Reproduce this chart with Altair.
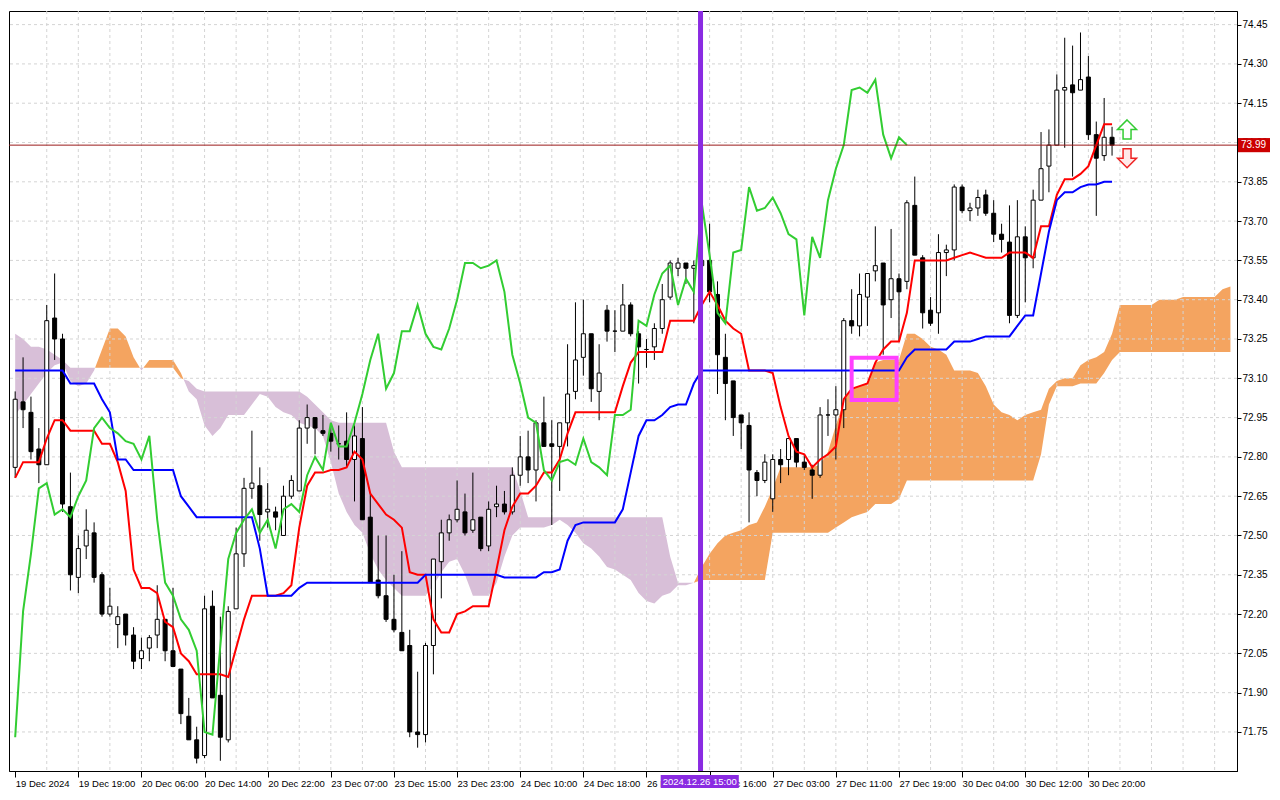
import altair as alt
import pandas as pd

FONT = "Liberation Sans"
W, H = 1228, 760

# ---------------- data ----------------
opens = [72.76,73.01,72.97,72.83,72.77,73.33,73.25,72.61,72.34,72.46,
72.51,72.35,72.20,72.16,72.20,72.12,72.03,72.07,72.12,72.18,
72.06,71.99,71.81,71.72,71.66,72.23,71.89,71.72,72.22,72.43,
72.68,72.69,72.59,72.59,72.50,72.65,72.67,72.91,72.95,72.90,
72.89,72.85,72.86,72.79,72.87,72.57,72.33,72.27,72.18,72.13,
72.08,71.75,71.74,72.08,72.40,72.51,72.56,72.59,72.52,72.57,
72.46,72.61,72.62,72.59,72.73,72.80,72.75,72.93,72.85,72.84,
72.93,73.05,73.18,73.27,73.05,73.36,73.28,73.28,73.38,73.27,
73.21,73.22,73.29,73.41,73.52,73.54,73.52,73.53,73.55,73.42,
73.18,73.09,72.96,72.92,72.74,72.71,72.64,72.79,72.79,72.87,
72.78,72.75,72.73,72.96,72.96,72.98,73.32,73.30,73.41,73.51,
73.54,73.40,73.48,73.47,73.76,73.56,73.36,73.35,73.58,73.59,
73.83,73.74,73.75,73.80,73.73,73.65,73.62,73.34,73.64,73.56,
73.78,73.91,73.99,74.20,74.22,74.20,74.25,74.03,73.95,74.02]

highs = [73.05,73.18,73.03,72.91,73.38,73.50,73.27,72.74,72.50,72.60,
72.55,72.36,72.30,72.23,72.20,72.15,72.11,72.12,72.31,72.18,
72.30,71.99,71.88,71.77,72.27,72.29,72.19,72.23,72.53,72.72,
72.90,72.76,72.70,72.61,72.69,72.73,72.94,73.00,72.95,72.96,
72.93,72.92,72.97,72.92,72.99,72.66,72.50,72.50,72.35,72.44,
72.14,71.98,72.09,72.41,72.56,72.58,72.71,72.66,72.74,72.57,
72.63,72.69,72.67,72.76,72.88,72.90,72.94,73.03,72.94,72.93,
73.23,73.39,73.40,73.27,73.23,73.38,73.36,73.46,73.39,73.28,
73.25,73.31,73.46,73.55,73.56,73.54,73.55,73.62,73.69,73.47,
73.27,73.09,72.96,72.97,72.75,72.81,72.81,72.83,72.87,72.87,
72.81,72.77,72.99,73.02,73.07,73.33,73.44,73.50,73.50,73.68,
73.54,73.67,73.50,73.78,73.87,73.57,73.41,73.65,73.61,73.84,
73.84,73.77,73.82,73.82,73.78,73.69,73.76,73.78,73.68,73.82,
74.04,74.05,74.26,74.40,74.37,74.42,74.33,74.08,74.17,74.06]

lows = [72.72,72.91,72.79,72.70,72.77,73.17,72.59,72.29,72.28,72.41,
72.32,72.19,72.19,72.07,72.08,71.99,71.99,72.02,72.07,72.02,
72.00,71.78,71.72,71.63,71.65,71.88,71.64,71.71,72.22,72.38,
72.64,72.48,72.53,72.52,72.50,72.64,72.67,72.85,72.81,72.88,
72.82,72.79,72.76,72.63,72.56,72.32,72.26,72.17,72.13,72.06,
71.73,71.69,71.71,71.97,72.26,72.48,72.55,72.50,72.51,72.44,
72.44,72.57,72.58,72.58,72.69,72.70,72.63,72.84,72.54,72.67,
72.84,73.02,73.11,73.01,72.94,73.24,73.20,73.28,73.26,73.08,
73.14,73.17,73.27,73.40,73.49,73.46,73.31,73.48,73.39,73.04,
72.94,72.88,72.83,72.55,72.65,72.70,72.59,72.70,72.73,72.76,
72.75,72.64,72.72,72.88,72.79,72.91,73.27,73.26,73.30,73.47,
73.19,73.33,73.24,73.44,73.57,73.29,73.30,73.27,73.49,73.55,
73.73,73.70,73.72,73.72,73.62,73.58,73.31,73.33,73.39,73.52,
73.78,73.81,73.99,73.98,73.87,74.20,74.01,73.72,73.93,73.95]

closes = [73.02,72.98,72.82,72.77,73.32,73.25,72.62,72.35,72.45,72.52,
72.34,72.20,72.23,72.19,72.12,72.02,72.06,72.11,72.18,72.06,
72.00,71.82,71.72,71.65,72.22,71.88,71.73,72.21,72.43,72.68,
72.70,72.58,72.60,72.57,72.65,72.71,72.91,72.95,72.91,72.89,
72.86,72.85,72.79,72.88,72.56,72.32,72.27,72.18,72.14,72.06,
71.75,71.74,72.08,72.41,72.51,72.56,72.60,72.51,72.56,72.45,
72.60,72.62,72.59,72.73,72.80,72.75,72.93,72.84,72.84,72.93,
73.04,73.17,73.27,73.06,73.12,73.28,73.28,73.38,73.27,73.22,
73.21,73.29,73.40,73.54,73.54,73.52,73.53,73.55,73.43,73.19,
73.08,72.95,72.93,72.75,72.71,72.78,72.79,72.77,72.87,72.78,
72.76,72.73,72.96,72.96,72.98,73.32,73.30,73.42,73.50,73.53,
73.38,73.48,73.43,73.77,73.57,73.35,73.31,73.58,73.59,73.83,
73.74,73.75,73.79,73.73,73.65,73.63,73.34,73.64,73.56,73.78,
73.90,73.99,74.20,74.21,74.19,74.24,74.03,73.94,74.02,73.99]

tenkan = [72.72,72.78,72.78,72.78,72.87,72.94,72.94,72.90,72.90,72.90,
72.90,72.85,72.85,72.78,72.67,72.37,72.30,72.30,72.28,72.17,
72.15,72.05,72.02,71.97,71.97,71.97,71.97,71.96,72.07,72.18,
72.27,72.27,72.27,72.27,72.28,72.31,72.53,72.69,72.74,72.74,
72.75,72.75,72.76,72.82,72.79,72.66,72.62,72.58,72.56,72.53,
72.36,72.35,72.35,72.18,72.13,72.13,72.20,72.21,72.23,72.23,
72.23,72.37,72.52,72.61,72.66,72.66,72.69,72.74,72.74,72.79,
72.89,72.97,72.97,72.97,72.97,72.97,72.97,73.07,73.16,73.20,
73.20,73.20,73.20,73.32,73.32,73.32,73.32,73.38,73.43,73.38,
73.32,73.29,73.27,73.13,73.13,73.13,73.12,72.99,72.88,72.82,
72.81,72.76,72.79,72.81,72.84,73.02,73.06,73.07,73.08,73.16,
73.21,73.24,73.24,73.35,73.55,73.55,73.55,73.55,73.55,73.56,
73.57,73.58,73.57,73.56,73.56,73.56,73.58,73.58,73.58,73.56,
73.68,73.68,73.80,73.86,73.86,73.88,73.91,73.99,74.07,74.07]

kijun = [73.13,73.13,73.13,73.13,73.13,73.13,73.13,73.08,73.08,73.08,
73.08,73.02,72.97,72.79,72.79,72.75,72.75,72.75,72.75,72.75,
72.75,72.65,72.61,72.57,72.57,72.57,72.57,72.57,72.57,72.57,
72.57,72.45,72.27,72.27,72.27,72.27,72.30,72.32,72.32,72.32,
72.32,72.32,72.32,72.32,72.32,72.32,72.32,72.32,72.32,72.32,
72.32,72.32,72.35,72.35,72.35,72.35,72.35,72.35,72.35,72.35,
72.35,72.35,72.34,72.34,72.34,72.34,72.34,72.36,72.36,72.37,
72.48,72.54,72.55,72.55,72.55,72.55,72.55,72.60,72.74,72.88,
72.94,72.94,72.96,72.99,73.00,73.00,73.08,73.13,73.13,73.13,
73.13,73.13,73.13,73.13,73.13,73.13,73.13,73.13,73.13,73.13,
73.13,73.13,73.13,73.13,73.13,73.13,73.13,73.13,73.13,73.13,
73.13,73.13,73.13,73.18,73.21,73.21,73.21,73.21,73.21,73.24,
73.24,73.24,73.25,73.26,73.26,73.26,73.26,73.30,73.34,73.34,
73.50,73.66,73.78,73.81,73.81,73.83,73.84,73.84,73.85,73.85]

span_a = [72.96,73.00,73.04,73.08,73.12,73.15,73.16,73.09,73.07,73.08,
73.13,73.21,73.29,73.29,73.26,73.18,73.13,73.17,73.17,73.17,
73.17,73.12,73.05,73.02,72.92,72.88,72.91,72.96,72.96,72.96,
73.00,73.04,73.03,72.99,72.97,72.96,72.93,72.92,72.91,72.88,
72.78,72.66,72.59,72.54,72.51,72.43,72.37,72.33,72.30,72.27,
72.27,72.27,72.27,72.31,72.36,72.40,72.41,72.35,72.27,72.27,
72.27,72.32,72.42,72.50,72.53,72.53,72.53,72.53,72.54,72.56,
72.54,72.51,72.47,72.45,72.42,72.38,72.37,72.35,72.33,72.28,
72.25,72.24,72.27,72.28,72.31,72.31,72.32,72.38,72.43,72.47,
72.50,72.51,72.52,72.54,72.55,72.61,72.68,72.76,72.76,72.76,
72.76,72.76,72.77,72.82,72.92,73.01,73.06,73.07,73.08,73.16,
73.17,73.17,73.17,73.27,73.27,73.25,73.22,73.21,73.19,73.13,
73.13,73.13,73.12,73.07,73.00,72.97,72.96,72.94,72.96,72.97,
72.98,73.06,73.09,73.10,73.10,73.15,73.17,73.18,73.20,73.27,
73.38,73.38,73.38,73.38,73.38,73.40,73.40,73.40,73.41,73.41,
73.41,73.41,73.41,73.44,73.45]

span_b = [73.27,73.25,73.22,73.22,73.21,73.19,73.17,73.14,73.14,73.14,
73.14,73.14,73.14,73.14,73.14,73.14,73.14,73.14,73.14,73.14,
73.14,73.10,73.09,73.06,73.05,73.05,73.05,73.05,73.05,73.05,
73.05,73.05,73.05,73.05,73.05,73.05,73.05,73.03,73.00,72.97,
72.94,72.93,72.93,72.93,72.93,72.93,72.93,72.93,72.82,72.76,
72.76,72.76,72.76,72.76,72.76,72.76,72.76,72.76,72.76,72.76,
72.76,72.76,72.76,72.76,72.67,72.57,72.57,72.57,72.57,72.57,
72.57,72.57,72.57,72.57,72.57,72.57,72.57,72.57,72.57,72.57,
72.57,72.57,72.57,72.42,72.32,72.32,72.32,72.33,72.33,72.33,
72.33,72.33,72.33,72.33,72.33,72.33,72.51,72.51,72.51,72.51,
72.51,72.51,72.51,72.51,72.53,72.55,72.57,72.58,72.59,72.62,
72.62,72.62,72.64,72.71,72.71,72.71,72.71,72.71,72.71,72.71,
72.71,72.71,72.71,72.71,72.71,72.71,72.71,72.71,72.71,72.71,
72.81,73.00,73.07,73.07,73.07,73.08,73.08,73.08,73.12,73.17,
73.20,73.20,73.20,73.20,73.20,73.20,73.20,73.20,73.20,73.20,
73.20,73.20,73.20,73.20,73.20]

chikou_shift = 26
tick_bars = [0, 8, 16, 24, 32, 40, 48, 56, 64, 72, 80, 88, 96, 104, 112, 120, 128, 136]
tick_labels = ['19 Dec 2024', '19 Dec 19:00', '20 Dec 06:00', '20 Dec 14:00', '20 Dec 22:00',
               '23 Dec 07:00', '23 Dec 15:00', '23 Dec 23:00', '24 Dec 10:00', '24 Dec 18:00',
               '26 Dec 08:00', '26 Dec 16:00', '27 Dec 03:00', '27 Dec 11:00', '27 Dec 19:00',
               '30 Dec 04:00', '30 Dec 12:00', '30 Dec 20:00']
price_ticks = [71.75, 71.90, 72.05, 72.20, 72.35, 72.50, 72.65, 72.80, 72.95, 73.10,
               73.25, 73.40, 73.55, 73.70, 73.85, 74.00, 74.15, 74.30, 74.45]
xgrid_bars = [4, 8, 12, 16, 20, 24, 28, 32, 36, 40, 44, 48, 52, 56, 60, 64, 68, 72, 76, 80,
              84, 88, 92, 96, 100, 104, 108, 112, 116, 120, 124, 128, 132, 136, 140, 144, 148, 152]
last_price = 73.99
marker_bar = 86.85
marker_label = '2024.12.26 15:00'
marker_box = [81.8, 91.7]
box_bars = [106.0, 111.7]
box_prices = [73.178, 73.017]
arrow_bars = [140.9, 140.9]
arrow_prices = [74.05, 73.94]

# ---------------- frames ----------------
n = len(opens)
candles = pd.DataFrame({'i': list(range(n)), 'o': opens, 'h': highs, 'l': lows, 'c': closes})
candles['dir'] = ['up' if c > o else 'down' for o, c in zip(opens, closes)]

ten_df = pd.DataFrame({'i': list(range(n)), 'v': tenkan})
kij_df = pd.DataFrame({'i': list(range(n)), 'v': kijun})
chi_df = pd.DataFrame({'i': [k - chikou_shift for k in range(chikou_shift, n)],
                       'v': closes[chikou_shift:]})

# cloud: split into bullish / bearish pieces, joined where the two spans cross
rows = []
seg = 0
def sgn(d):
    return 1 if d > 0 else (-1 if d < 0 else 0)
cur = sgn(span_a[0] - span_b[0]) or -1
for k in range(len(span_a)):
    a, b = span_a[k], span_b[k]
    s = sgn(a - b)
    if k > 0 and s != 0 and s != cur:
        d0 = span_a[k-1] - span_b[k-1]
        d1 = a - b
        t = d0 / (d0 - d1) if d0 != d1 else 0.0
        xc = (k - 1) + t
        yc = span_a[k-1] + t * (a - span_a[k-1])
        rows.append({'x': xc, 'top': yc, 'bot': yc, 'seg': seg, 'kind': 'bull' if cur > 0 else 'bear'})
        seg += 1
        cur = s
        rows.append({'x': xc, 'top': yc, 'bot': yc, 'seg': seg, 'kind': 'bull' if cur > 0 else 'bear'})
    rows.append({'x': k, 'top': max(a, b), 'bot': min(a, b), 'seg': seg, 'kind': 'bull' if cur > 0 else 'bear'})
cloud_df = pd.DataFrame(rows)

xs = alt.Scale(domain=[-0.15, 154.2], nice=False, zero=False)
ys = alt.Scale(domain=[71.601, 74.502], nice=False, zero=False)

label_expr = "[" + ",".join("'%s'" % s for s in tick_labels) + "][round(datum.value/8)]"
x_axis = alt.Axis(values=tick_bars, labelExpr=label_expr, title=None, grid=False,
                  labelAlign='left', labelPadding=1, tickSize=6, tickColor='black',
                  domainColor='black', labelColor='black', labelFont=FONT, labelFontSize=9.5,
                  labelOverlap=False, labelFlush=False, labelBound=False)
y_axis = alt.Axis(values=price_ticks, format='.2f', title=None, grid=False, orient='right',
                  tickSize=4, tickColor='black', domainColor='black', labelColor='black',
                  labelFont=FONT, labelFontSize=10, labelPadding=1, labelOverlap=False)

def X(f):
    return alt.X(f, scale=xs, axis=x_axis)

def Y(f):
    return alt.Y(f, scale=ys, axis=y_axis, stack=None)

cloud = alt.Chart(cloud_df).mark_area(interpolate='linear').encode(
    x=X('x:Q'), y=Y('top:Q'), y2='bot:Q',
    color=alt.Color('kind:N', scale=alt.Scale(domain=['bear', 'bull'], range=['#D8BFD8', '#F4A460']), legend=None),
    detail='seg:N')

xgrid = alt.Chart(pd.DataFrame({'g': xgrid_bars})).mark_rule(
    color='#d4d4d4', strokeDash=[3, 3], strokeWidth=1).encode(x=X('g:Q'))
ygrid = alt.Chart(pd.DataFrame({'g': price_ticks})).mark_rule(
    color='#d4d4d4', strokeDash=[3, 3], strokeWidth=1).encode(y=Y('g:Q'))

wicks = alt.Chart(candles).mark_rule(color='black', strokeWidth=1).encode(
    x=X('i:Q'), y=Y('l:Q'), y2='h:Q')
bodies = alt.Chart(candles).mark_bar(size=4, stroke='black', strokeWidth=1).encode(
    x=X('i:Q'), y=Y('o:Q'), y2='c:Q',
    fill=alt.condition("datum.dir == 'up'", alt.value('white'), alt.value('black')))

def line(df, col):
    return alt.Chart(df).mark_line(color=col, strokeWidth=2).encode(x=X('i:Q'), y=Y('v:Q'))

ten_l = line(ten_df, '#ff0000')
kij_l = line(kij_df, '#0000ff')
chi_l = line(chi_df, '#32cd32')

price_line = alt.Chart(pd.DataFrame({'v': [last_price]})).mark_rule(color='#9b1b1b', strokeWidth=1).encode(
    y=Y('v:Q'))
vline = alt.Chart(pd.DataFrame({'v': [marker_bar]})).mark_rule(color='#8A2BE2', strokeWidth=5).encode(
    x=X('v:Q'))
box = alt.Chart(pd.DataFrame({'x0': [box_bars[0]], 'x1': [box_bars[1]],
                              'y0': [box_prices[0]], 'y1': [box_prices[1]]})).mark_rect(
    fillOpacity=0, stroke='#FF40FF', strokeWidth=4).encode(
    x=X('x0:Q'), x2='x1:Q', y=Y('y0:Q'), y2='y1:Q')

UP = "M0,-1 L1,0 L0.42,0 L0.42,1 L-0.42,1 L-0.42,0 L-1,0 Z"
DOWN = "M0,1 L1,0 L0.42,0 L0.42,-1 L-0.42,-1 L-0.42,0 L-1,0 Z"
up_arrow = alt.Chart(pd.DataFrame({'x': [arrow_bars[0]], 'y': [arrow_prices[0]]})).mark_point(
    shape=UP, size=360, fill='white', stroke='#33cc33', strokeWidth=1.5, opacity=1, fillOpacity=1).encode(
    x=X('x:Q'), y=Y('y:Q'))
dn_arrow = alt.Chart(pd.DataFrame({'x': [arrow_bars[1]], 'y': [arrow_prices[1]]})).mark_point(
    shape=DOWN, size=360, fill='#ffe8e8', stroke='#ee2222', strokeWidth=1.5, opacity=1, fillOpacity=1).encode(
    x=X('x:Q'), y=Y('y:Q'))

plabel_box = alt.Chart(pd.DataFrame({'t': [last_price + 0.027], 'b': [last_price - 0.027]})).mark_rect(
    color='#cc0000').encode(x=alt.value(W + 1), x2=alt.value(W + 33), y=Y('t:Q'), y2='b:Q')
plabel_txt = alt.Chart(pd.DataFrame({'v': [last_price], 't': ['%.2f' % last_price]})).mark_text(
    align='left', baseline='middle', color='white', font=FONT, fontSize=10).encode(
    x=alt.value(W + 4), y=Y('v:Q'), text='t:N')

dlabel_box = alt.Chart(pd.DataFrame({'x0': [marker_box[0]], 'x1': [marker_box[1]]})).mark_rect(
    color='#8A2BE2').encode(x=X('x0:Q'), x2='x1:Q', y=alt.value(H + 4), y2=alt.value(H + 17))
dlabel_txt = alt.Chart(pd.DataFrame({'x': [(marker_box[0] + marker_box[1]) / 2], 't': [marker_label]})).mark_text(
    align='center', baseline='middle', color='white', font=FONT, fontSize=9.5).encode(
    x=X('x:Q'), y=alt.value(H + 11), text='t:N')

chart = alt.layer(cloud, xgrid, ygrid, wicks, bodies, ten_l, kij_l, chi_l, price_line, vline, box,
                  up_arrow, dn_arrow, plabel_box, plabel_txt, dlabel_box, dlabel_txt).properties(
    width=W, height=H, padding=0, background='white'
).configure_view(stroke='black', strokeWidth=1)

chart.save("out.html", embed_options={"renderer": "svg", "actions": False})
